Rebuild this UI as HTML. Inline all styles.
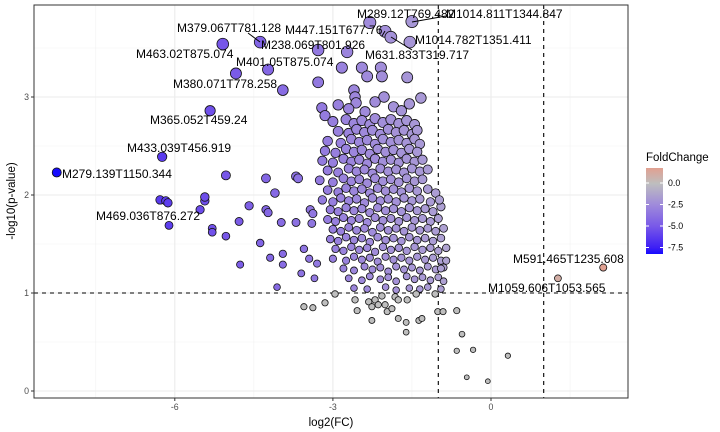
<!DOCTYPE html>
<html><head><meta charset="utf-8"><style>
body{margin:0;background:#fff;}
svg{display:block;font-family:"Liberation Sans",sans-serif;}
</style></head><body>
<svg id="chart" width="720" height="432">
<rect x="0" y="0" width="720" height="432" fill="#fff"/>
<g id="grid"></g>
<g id="refs"></g>
<g id="pts"></g>
<g id="labs"></g>
<rect x="34" y="5" width="594" height="393" fill="none" stroke="#333" stroke-width="1"/>
<g id="axes"></g>
<text x="331" y="426" text-anchor="middle" font-size="11.5" fill="#000">log2(FC)</text>
<text x="0" y="0" transform="translate(15,201) rotate(-90)" text-anchor="middle" font-size="11.5" fill="#000">-log10(p-value)</text>
<g>
<text x="646" y="161" font-size="11.5" fill="#000">FoldChange</text>
<defs><linearGradient id="cb" x1="0" y1="0" x2="0" y2="1">
<stop offset="0" stop-color="rgb(225,160,145)"/>
<stop offset="0.18" stop-color="rgb(190,190,190)"/>
<stop offset="0.42" stop-color="rgb(160,140,218)"/>
<stop offset="0.68" stop-color="rgb(120,88,232)"/>
<stop offset="0.93" stop-color="rgb(60,30,245)"/>
<stop offset="1" stop-color="rgb(20,10,255)"/>
</linearGradient></defs>
<rect x="646" y="168" width="17" height="86" fill="url(#cb)"/>
<g id="legticks"></g>
</g>
</svg>
<script>
const NS="http://www.w3.org/2000/svg";
const xTicks=[-6,-3,0];
const yTicks=[0,1,2,3];
const legendTicks=[0,-2.5,-5,-7.5];
const legendTickLabels=["0.0","-2.5","-5.0","-7.5"];
const points=[
[-8.24,2.23],[-6.24,2.39],[-5.03,2.20],[-6.28,1.95],[-6.17,1.94],[-6.13,1.92],[-5.52,1.85],[-5.43,1.94],[-5.43,1.98],
[-6.11,1.69],[-5.29,1.66],[-5.29,1.62],[-5.03,1.58],[-4.78,1.73],[-4.59,1.89],[-4.27,1.85],[-4.23,1.82],[-3.98,1.72],
[-3.70,1.72],[-4.38,1.51],[-4.76,1.29],[-4.19,1.36],[-3.95,1.40],[-3.95,1.29],[-4.06,1.06],[-4.27,2.17],[-3.70,2.19],
[-3.66,2.17],[-4.10,2.02],[-3.43,1.85],[-3.38,1.81],[-3.40,1.71],[-3.55,1.45],[-3.45,1.35],[-3.3,1.30],[-3.6,1.20],[-3.35,1.15],
[-5.09,3.54],[-4.38,3.56],[-4.84,3.24],[-4.23,3.28],[-3.95,3.07],[-5.33,2.86],[-3.28,3.15],[-3.28,3.48],
[-2.30,3.76],[-2.01,3.67],[-1.90,3.61],[-1.50,3.77],[-1.54,3.56],[-2.73,3.46],[-2.83,3.30],[-2.45,3.30],[-2.09,3.30],[-2.07,3.21],
[-1.59,3.20],[-2.35,3.21],[-2.60,3.07],[-2.58,3.00],[-2.56,2.94],[-2.39,2.85],[-2.03,3.00],[-3.21,2.89],[-3.15,2.81],[-1.33,2.99],
[-2.9,2.92],[-2.7,2.88],[-2.2,2.95],[-1.85,2.9],[-1.7,2.86],[-1.55,2.93],
[-3.0,2.75],[-2.75,2.77],[-2.6,2.73],[-2.45,2.76],[-2.3,2.72],[-2.2,2.78],[-2.05,2.74],[-1.9,2.77],[-1.75,2.73],[-1.6,2.76],[-1.45,2.72],
[-2.9,2.65],[-2.7,2.63],[-2.55,2.67],[-2.4,2.64],[-2.25,2.66],[-2.1,2.62],[-1.95,2.67],[-1.8,2.64],[-1.65,2.66],[-1.5,2.62],[-1.4,2.66],
[-3.1,2.55],[-2.85,2.53],[-2.65,2.57],[-2.5,2.54],[-2.35,2.56],[-2.2,2.52],[-2.05,2.57],[-1.9,2.54],[-1.75,2.56],[-1.6,2.53],[-1.45,2.57],[-1.35,2.52],
[-3.15,2.45],[-2.95,2.43],[-2.75,2.47],[-2.6,2.44],[-2.45,2.46],[-2.3,2.42],[-2.15,2.47],[-2.0,2.44],[-1.85,2.46],[-1.7,2.43],[-1.55,2.47],[-1.4,2.44],
[-3.2,2.35],[-3.0,2.33],[-2.8,2.37],[-2.65,2.34],[-2.5,2.36],[-2.35,2.32],[-2.2,2.37],[-2.05,2.34],[-1.9,2.36],[-1.75,2.33],[-1.6,2.37],[-1.45,2.34],[-1.3,2.36],
[-3.1,2.25],[-2.9,2.23],[-2.7,2.27],[-2.55,2.24],[-2.4,2.26],[-2.25,2.22],[-2.1,2.27],[-1.95,2.24],[-1.8,2.26],[-1.65,2.23],[-1.5,2.27],[-1.35,2.24],[-1.2,2.26],
[-3.25,2.15],[-3.0,2.13],[-2.8,2.17],[-2.65,2.14],[-2.5,2.16],[-2.35,2.12],[-2.2,2.17],[-2.05,2.14],[-1.9,2.16],[-1.75,2.13],[-1.6,2.17],[-1.45,2.14],[-1.3,2.16],
[-3.1,2.05],[-2.9,2.03],[-2.75,2.07],[-2.6,2.04],[-2.45,2.06],[-2.3,2.02],[-2.15,2.07],[-2.0,2.04],[-1.85,2.06],[-1.7,2.03],[-1.55,2.07],[-1.4,2.04],[-1.2,2.06],[-1.05,2.02],
[-3.2,1.95],[-3.0,1.93],[-2.85,1.97],[-2.7,1.94],[-2.55,1.96],[-2.4,1.92],[-2.25,1.97],[-2.1,1.94],[-1.95,1.96],[-1.8,1.93],[-1.65,1.97],[-1.5,1.94],[-1.35,1.96],[-1.15,1.93],
[-3.05,1.85],[-2.9,1.83],[-2.75,1.87],[-2.6,1.84],[-2.45,1.86],[-2.3,1.82],[-2.15,1.87],[-2.0,1.84],[-1.85,1.86],[-1.7,1.83],[-1.55,1.87],[-1.4,1.84],[-1.25,1.86],[-1.1,1.83],
[-3.1,1.75],[-2.95,1.73],[-2.8,1.77],[-2.65,1.74],[-2.5,1.76],[-2.35,1.72],[-2.2,1.77],[-2.05,1.74],[-1.9,1.76],[-1.75,1.73],[-1.6,1.77],[-1.45,1.74],[-1.3,1.76],[-1.15,1.73],[-1.0,1.76],
[-3.0,1.65],[-2.85,1.63],[-2.7,1.67],[-2.55,1.64],[-2.4,1.66],[-2.25,1.62],[-2.1,1.67],[-1.95,1.64],[-1.8,1.66],[-1.65,1.63],[-1.5,1.67],[-1.35,1.64],[-1.2,1.66],[-1.05,1.63],[-0.9,1.66],
[-3.05,1.55],[-2.9,1.53],[-2.75,1.57],[-2.6,1.54],[-2.45,1.56],[-2.3,1.52],[-2.15,1.57],[-2.0,1.54],[-1.85,1.56],[-1.7,1.53],[-1.55,1.57],[-1.4,1.54],[-1.25,1.56],[-1.1,1.53],[-0.95,1.56],
[-2.95,1.45],[-2.8,1.43],[-2.65,1.47],[-2.5,1.44],[-2.35,1.46],[-2.2,1.42],[-2.05,1.47],[-1.9,1.44],[-1.75,1.46],[-1.6,1.43],[-1.45,1.47],[-1.3,1.44],[-1.15,1.46],[-1.0,1.43],[-0.85,1.46],
[-3.0,1.35],[-2.75,1.33],[-2.6,1.37],[-2.45,1.34],[-2.3,1.36],[-2.15,1.32],[-2.0,1.37],[-1.85,1.34],[-1.7,1.36],[-1.55,1.33],[-1.4,1.37],[-1.25,1.34],[-1.1,1.36],[-0.95,1.33],
[-2.8,1.25],[-2.6,1.23],[-2.4,1.27],[-2.25,1.24],[-2.1,1.26],[-1.95,1.22],[-1.8,1.27],[-1.65,1.24],[-1.5,1.26],[-1.35,1.23],[-1.2,1.27],[-1.05,1.24],[-0.9,1.26],[-0.85,1.33],
[-2.7,1.15],[-2.45,1.13],[-2.3,1.17],[-2.1,1.14],[-1.95,1.16],[-1.8,1.12],[-1.6,1.17],[-1.45,1.14],[-1.3,1.16],[-1.15,1.13],[-1.0,1.16],
[-2.6,1.05],[-2.35,1.04],[-2.0,1.06],[-1.8,1.03],[-1.55,1.05],[-1.35,1.04],[-1.2,1.06],[-0.95,1.04],[-0.95,1.88],[-0.98,1.95],
[-3.55,0.86],[-3.38,0.85],[-3.15,0.90],[-2.96,0.99],[-2.58,0.93],[-2.54,0.82],[-2.32,0.91],[-2.26,0.86],[-2.20,0.93],[-2.14,0.88],
[-2.07,0.97],[-2.01,0.88],[-1.97,0.81],[-1.88,0.84],[-1.82,0.96],[-1.76,0.93],[-2.26,0.72],[-1.76,0.74],[-1.61,0.70],[-1.59,0.93],
[-1.42,0.99],[-1.37,0.72],[-1.31,0.74],[-1.61,0.60],[-1.01,0.81],[-0.91,0.81],[-0.65,0.82],[-0.55,0.58],[-0.65,0.41],[-0.34,0.42],
[0.32,0.36],[-0.46,0.14],[-0.06,0.10],[-1.06,0.99],[-0.9,1.12],[-0.95,1.25],
[1.27,1.15],[2.13,1.26]
];
const labelTexts=["M289.12T769.482","M1014.811T1344.847","M447.151T677.76","M1014.782T1351.411","M379.067T781.128","M238.069T801.926","M463.02T875.074","M401.05T875.074","M631.833T319.717","M380.071T778.258","M365.052T459.24","M433.039T456.919","M279.139T1150.344","M469.036T876.272","M591.465T1235.608","M1059.606T1053.565"];
const labelPos=[[357,14],[446,14],[285,30],[415,40],[177,28],[261,45],[136,54],[236,62],[365,55],[173,84],[150,120],[127,148],[62,174],[96,216],[513,259],[488,288]];
const leaders=[[412,22,446,16],[391,37,412,50],[260,42,248,33],[385,31,382,36]];

const X0=34,X1=628,Y0=5,Y1=398;
function sx(v){return 491+v*52.7;}
function sy(v){return 391-v*98;}
function el(t,a,p){const e=document.createElementNS(NS,t);for(const k in a)e.setAttribute(k,a[k]);p.appendChild(e);return e;}
const stops=[[-8.3,[20,10,255]],[-7.5,[60,30,245]],[-5,[120,88,232]],[-2.5,[158,136,220]],[-1,[172,158,212]],[0,[190,190,190]],[2.2,[225,160,145]]];
function col(fc,p){
  if(p<1)return "rgb(190,190,190)";
  for(let i=0;i<stops.length-1;i++){
    const a=stops[i],b=stops[i+1];
    if(fc<=b[0]||i===stops.length-2){
      let t=(fc-a[0])/(b[0]-a[0]);t=Math.max(0,Math.min(1,t));
      const c=a[1].map((v,j)=>Math.round(v+(b[1][j]-v)*t));
      return "rgb("+c.join(",")+")";
    }
  }
}
const grid=document.getElementById("grid");
[-7.5,-4.5,-1.5,1.5].forEach(v=>{const l=el("line",{x1:sx(v),x2:sx(v),y1:Y0,y2:Y1,stroke:"#f2f2f2","stroke-width":0.6},grid);});
[0.5,1.5,2.5,3.5].forEach(v=>{const l=el("line",{x1:X0,x2:X1,y1:sy(v),y2:sy(v),stroke:"#f2f2f2","stroke-width":0.6},grid);});
xTicks.forEach(v=>{const l=el("line",{x1:sx(v),x2:sx(v),y1:Y0,y2:Y1,stroke:"#ebebeb","stroke-width":1.1},grid);});
yTicks.forEach(v=>{const l=el("line",{x1:X0,x2:X1,y1:sy(v),y2:sy(v),stroke:"#ebebeb","stroke-width":1.1},grid);});
const refs=document.getElementById("refs");
[-1,1].forEach(v=>{const l=el("line",{x1:sx(v),x2:sx(v),y1:Y0,y2:Y1,stroke:"#000","stroke-width":1.1,"stroke-dasharray":"4,4"},refs);});
{const l=el("line",{x1:X0,x2:X1,y1:sy(1),y2:sy(1),stroke:"#000","stroke-width":1.1,"stroke-dasharray":"4,4"},refs);}
const pts=document.getElementById("pts");
points.forEach(p=>{
  const r=Math.max(2,2.3+1.0*p[1]);
  const c=el("circle",{cx:sx(p[0]),cy:sy(p[1]),r:r,fill:col(p[0],p[1]),stroke:"#111","stroke-width":0.8},pts);
  
  
});
const labs=document.getElementById("labs");
leaders.forEach(s=>{const l=el("line",{x1:s[0],y1:s[1],x2:s[2],y2:s[3],stroke:"#000","stroke-width":1},labs);});
labelTexts.forEach((t,i)=>{
  const tx=el("text",{x:labelPos[i][0],y:labelPos[i][1]+4,"font-size":"12",fill:"#000"},labs);
  tx.textContent=t;
  
  
});
const axes=document.getElementById("axes");
xTicks.forEach(v=>{
  const l=el("line",{x1:sx(v),x2:sx(v),y1:Y1,y2:Y1+3,stroke:"#333"},axes);
  
  const t=el("text",{x:sx(v),y:Y1+12,"text-anchor":"middle","font-size":"8.8",fill:"#4d4d4d"},axes);
  t.textContent=String(v);
  
});
yTicks.forEach(v=>{
  const l=el("line",{x1:X0-3,x2:X0,y1:sy(v),y2:sy(v),stroke:"#333"},axes);
  
  const t=el("text",{x:X0-5,y:sy(v)+3,"text-anchor":"end","font-size":"8.8",fill:"#4d4d4d"},axes);
  t.textContent=String(v);
  
});
const lt=document.getElementById("legticks");
legendTicks.forEach((v,i)=>{
  const y=183-v*8.6;
  el("line",{x1:646,x2:649,y1:y,y2:y,stroke:"#fff"},lt);
  el("line",{x1:660,x2:663,y1:y,y2:y,stroke:"#fff"},lt);
  const t=el("text",{x:668,y:y+3,"font-size":"8.8",fill:"#000"},lt);
  t.textContent=legendTickLabels[i];
  
  
});
</script>
</body></html>
